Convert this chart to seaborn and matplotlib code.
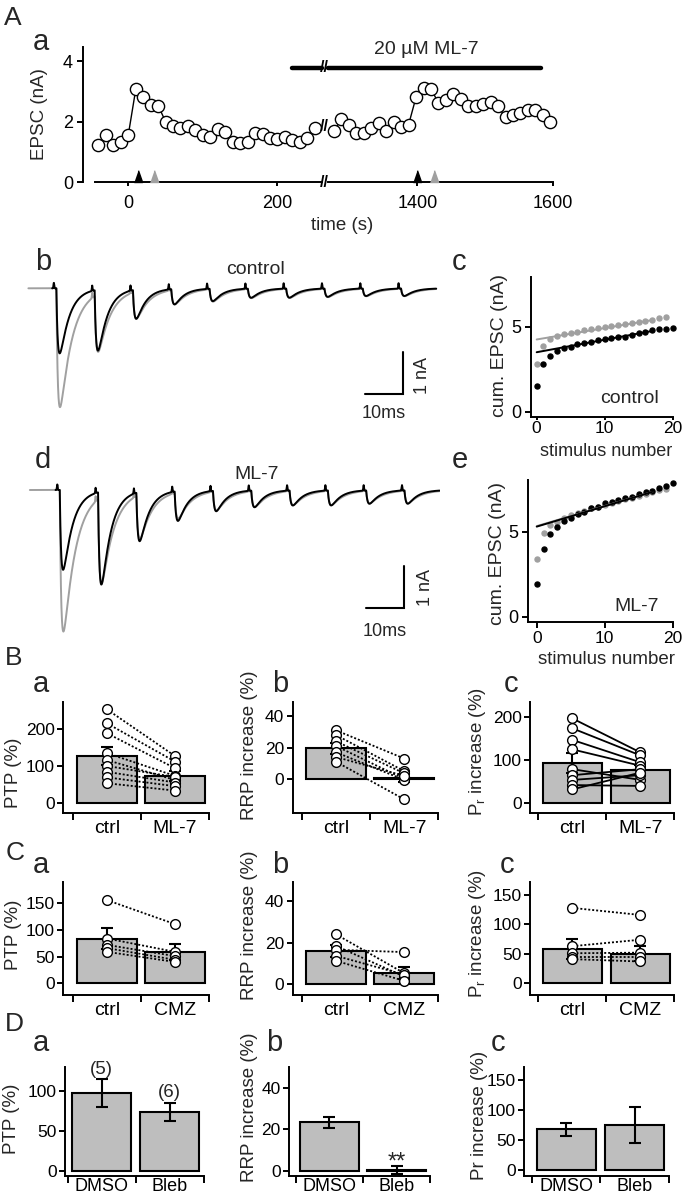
import numpy as np
import matplotlib
matplotlib.use("Agg")
import matplotlib.pyplot as plt
import matplotlib.transforms as mtrans
import seaborn as sns

# ---------------- data ----------------
# Panel A: EPSC time course
time_pre = [-40, -30, -20, -10, 0, 10, 20, 30, 40, 50, 60, 70, 80, 90, 100,
            110, 120, 130, 140, 150, 160, 170, 180, 190, 200, 210, 220, 230, 240, 250]
epsc_pre = [1.22, 1.57, 1.22, 1.35, 1.57, 3.08, 2.82, 2.56, 2.54, 2.01, 1.85, 1.79, 1.87, 1.73, 1.57,
            1.51, 1.76, 1.65, 1.35, 1.29, 1.35, 1.62, 1.59, 1.46, 1.43, 1.51, 1.40, 1.35, 1.46, 1.79]
time_post = [1277, 1288, 1299, 1310, 1321, 1332, 1343, 1354, 1365, 1376, 1387, 1398, 1409, 1420, 1431,
             1442, 1453, 1464, 1475, 1486, 1497, 1508, 1519, 1530, 1541, 1552, 1563, 1574, 1585, 1596]
epsc_post = [1.71, 2.09, 1.90, 1.62, 1.62, 1.79, 1.98, 1.70, 1.99, 1.82, 1.91, 2.82, 3.12, 3.08, 2.64,
             2.73, 2.93, 2.75, 2.53, 2.51, 2.60, 2.67, 2.51, 2.15, 2.23, 2.29, 2.40, 2.40, 2.23, 1.99]
tetanus_black = [13, 1400]
tetanus_gray = [34, 1424]
ml7_start, ml7_end, ml7_level = 219, 1582, 3.8

# Panels b, d: EPSC trains (10 stimuli, amplitudes in nA)
stim_times = [0, 10, 20, 30, 40, 50, 60, 70, 80, 90]
b_black_amp = [1.56, 1.46, 0.70, 0.37, 0.30, 0.22, 0.22, 0.20, 0.18, 0.18]
b_gray_amp = [2.85, 1.38, 0.65, 0.35, 0.30, 0.22, 0.22, 0.20, 0.18, 0.18]
d_black_amp = [1.90, 2.21, 1.17, 0.71, 0.49, 0.40, 0.36, 0.36, 0.32, 0.32]
d_gray_amp = [3.37, 2.05, 1.05, 0.62, 0.45, 0.38, 0.34, 0.34, 0.30, 0.30]

# Panels c, e: cumulative EPSC
stim_num_black = list(range(21))
stim_num_gray = list(range(20))
c_black = [1.53, 2.80, 3.29, 3.57, 3.73, 3.82, 3.96, 4.06, 4.12, 4.22, 4.27, 4.31, 4.37, 4.41, 4.51,
           4.61, 4.71, 4.80, 4.84, 4.86, 4.90]
c_gray = [2.80, 3.86, 4.25, 4.45, 4.55, 4.65, 4.71, 4.78, 4.85, 4.92, 4.98, 5.04, 5.10, 5.17, 5.23,
          5.30, 5.36, 5.42, 5.53, 5.55]
e_black = [1.92, 3.96, 4.84, 5.29, 5.63, 5.78, 6.04, 6.18, 6.37, 6.47, 6.67, 6.76, 6.86, 6.96, 7.06,
           7.22, 7.31, 7.41, 7.55, 7.71, 7.88]
e_gray = [3.39, 4.90, 5.39, 5.59, 5.78, 5.98, 6.12, 6.24, 6.37, 6.47, 6.57, 6.68, 6.79, 6.90, 7.00,
          7.11, 7.22, 7.33, 7.45, 7.49]
c_fit_black = (3.50, 0.0735)   # intercept, slope
c_fit_gray = (4.25, 0.0670)
e_fit_black = (5.30, 0.120)
e_fit_gray = (5.33, 0.118)
fit_range = (0, 17)

# Row B (ML-7)
cats_B = ["ctrl", "ML-7"]
Ba_mean, Ba_sem = [127, 73], [24, 13]
Ba_ctrl = [254, 216, 189, 135, 116, 100, 84, 69, 53]
Ba_drug = [127, 112, 94, 73, 62, 70, 55, 45, 33]
Bb_mean, Bb_sem = [19.5, 0.5], [3.3, 2.7]
Bb_ctrl = [31, 28, 24, 21, 17, 14, 11]
Bb_drug = [13, 5, 3.6, 0, -0.6, 2, -13]
Bc_mean, Bc_sem = [93, 76], [23, 12]
Bc_ctrl = [196, 173, 146, 124, 78, 64, 53, 41, 31]
Bc_drug = [117, 110, 94, 86, 53, 78, 64, 39, 70]
# Row C (CMZ)
cats_C = ["ctrl", "CMZ"]
Ca_mean, Ca_sem = [84, 58], [20, 15]
Ca_ctrl = [156, 84, 72, 66, 59]
Ca_drug = [111, 59, 51, 44, 40]
Cb_mean, Cb_sem = [16, 5.2], [3, 3]
Cb_ctrl = [24, 18.4, 16.5, 13.6, 11.2]
Cb_drug = [5.2, 3.6, 15.4, 4.5, 1.5]
Cc_mean, Cc_sem = [58, 50], [17, 13]
Cc_ctrl = [128, 63, 51, 44, 41]
Cc_drug = [116, 74, 52, 44, 37]
# Row D (blebbistatin)
cats_D = ["DMSO", "Bleb"]
Da_mean, Da_sem = [97.5, 74], [18, 11]
Da_n = ["(5)", "(6)"]
Db_mean, Db_sem = [23.4, 0.5], [2.8, 1.9]
Dc_mean, Dc_sem = [68, 75], [11, 30]

# ---------------- style ----------------
sns.set_style("ticks")
plt.rcParams["font.family"] = ["Liberation Sans", "DejaVu Sans"]
plt.rcParams["mathtext.default"] = "regular"
plt.rcParams["axes.linewidth"] = 1.4
plt.rcParams["xtick.major.width"] = 1.4
plt.rcParams["ytick.major.width"] = 1.4
plt.rcParams["xtick.color"] = "k"
plt.rcParams["ytick.color"] = "k"
plt.rcParams["axes.edgecolor"] = "k"

W, H = 683, 1199
fig = plt.figure(figsize=(W / 100, H / 100), dpi=100)
GRAY = "#a0a0a0"
BARC = "#bebebe"


def axpx(x0, y0, x1, y1):
    ax = fig.add_axes([x0 / W, 1 - y1 / H, (x1 - x0) / W, (y1 - y0) / H])
    ax.patch.set_alpha(0)
    return ax


def ftext(x, y, s, **kw):
    return fig.text(x / W, 1 - y / H, s, **kw)


# ---------------- Panel A ----------------
axL = axpx(82.6, 47, 321.7, 182.3)
axR = axpx(328, 47, 553, 182.3)
for ax in (axL, axR):
    ax.set_ylim(0, 4.48)
    ax.spines["top"].set_visible(False)
    ax.spines["right"].set_visible(False)
    ax.tick_params(axis="x", length=3, pad=6.5, labelsize=13)
axL.set_xlim(-61.3, 259.4)
axR.set_xlim(1268.1, 1600)
axR.spines["left"].set_visible(False)
axR.set_yticks([])
axL.spines["bottom"].set_bounds(-45, 259.4)
axL.set_yticks([0, 2, 4])
axL.tick_params(axis="y", length=4, pad=3, labelsize=13)
axL.set_xticks([0, 200])
axR.set_xticks([1400, 1600])

for ax, tt, yy in ((axL, time_pre, epsc_pre), (axR, time_post, epsc_post)):
    sns.lineplot(x=tt, y=yy, ax=ax, color="k", lw=1.0, marker="o", markersize=8.8,
                 markerfacecolor="white", markeredgecolor="k", markeredgewidth=1.0,
                 clip_on=False, zorder=3)
tri = [(-0.35, 0), (0.35, 0), (0, 1)]
for tb, tg in zip(tetanus_black, tetanus_gray):
    ax = axL if tb < 1000 else axR
    ax.plot([tb], [0], marker=tri, ms=17, color="k", ls="none", clip_on=False, zorder=4)
    ax.plot([tg], [0], marker=tri, ms=17, color=GRAY, ls="none", clip_on=False, zorder=4)
axL.plot([ml7_start, axL.get_xlim()[1]], [ml7_level, ml7_level], color="k", lw=3.2,
         solid_capstyle="round", clip_on=False)
axR.plot([axR.get_xlim()[0], ml7_end], [ml7_level, ml7_level], color="k", lw=3.2,
         solid_capstyle="round", clip_on=False)
bt = mtrans.blended_transform_factory(fig.transFigure, axL.transData)
for yv in (0, ml7_level, 1.85):
    fig.text(324.8 / W, yv, "//", transform=bt, ha="center", va="center", fontsize=11.5,
             fontweight="bold", color="k")
ftext(426, 49, "20 µM ML-7", ha="center", va="center", fontsize=14)
ftext(342, 226, "time (s)", ha="center", va="center", fontsize=13.5)
ftext(40, 114, "EPSC (nA)", ha="center", va="center", rotation=90, fontsize=13.5)


# ---------------- Panels b, d (traces) ----------------
def epsc_trace(t, stims, amps, tau_r, tau_d, delay=0.8):
    y = np.zeros_like(t)
    tp = tau_d * tau_r / (tau_d - tau_r) * np.log(tau_d / tau_r)
    norm = np.exp(-tp / tau_d) - np.exp(-tp / tau_r)
    for s, a in zip(stims, amps):
        dt = np.clip(t - s - delay, 0, None)
        k = np.where(t - s - delay > 0, (np.exp(-dt / tau_d) - np.exp(-dt / tau_r)) / norm, 0.0)
        y = y - a * k + 0.13 * np.exp(-((t - s - 0.15) / 0.12) ** 2)
    return y


def trace_panel(box, xlim, ylim, black_amp, gray_amp, gray_start, title, title_xy,
                bar_corner, lbl10, lbl1):
    ax = axpx(*box)
    ax.set_xlim(*xlim)
    ax.set_ylim(*ylim)
    ax.axis("off")
    tg = np.arange(gray_start, 100.0, 0.02)
    tb = np.arange(-0.3, 100.0, 0.02)
    ax.plot(tg, epsc_trace(tg, stim_times, gray_amp, 0.4, 3.2), color=GRAY, lw=1.4)
    ax.plot(tb, epsc_trace(tb, stim_times, black_amp, 0.4, 2.5), color="k", lw=1.4)
    cx, cy = bar_corner
    ax.plot([cx - 10, cx, cx], [cy, cy, cy + 1], color="k", lw=1.5, solid_joinstyle="miter")
    ax.text(lbl10[0], lbl10[1], "10ms", ha="center", va="center", fontsize=13)
    ax.text(lbl1[0], lbl1[1], "1 nA", ha="center", va="center", rotation=90, fontsize=13)
    ax.text(title_xy[0], title_xy[1], title, ha="center", va="center", fontsize=14)
    return ax


trace_panel((20, 270, 440, 420), (-8.69, 100.97), (-3.158, 0.439), b_black_amp, b_gray_amp,
            -6.5, "control", (52.7, 0.44), (91.3, -2.53), (86.3, -3.0), (96.3, -2.1))
trace_panel((20, 470, 440, 640), (-9.58, 100.08), (-3.571, 0.476), d_black_amp, d_gray_amp,
            -7.0, "ML-7", (52.2, 0.36), (90.7, -2.81), (85.7, -3.38), (96.2, -2.31))


# ---------------- Panels c, e ----------------
def cum_panel(box, xlim, ylim, blk, gry, fb, fg, label, label_xy, xpad, xlen):
    ax = axpx(*box)
    ax.set_xlim(*xlim)
    ax.set_ylim(*ylim)
    sns.despine(ax=ax)
    ax.set_xticks([0, 10, 20])
    ax.set_yticks([0, 5])
    ax.tick_params(axis="y", length=4, pad=3, labelsize=13)
    ax.tick_params(axis="x", length=xlen, pad=xpad, labelsize=12.5)
    ax.plot(stim_num_gray, gry, "o", color=GRAY, ms=3.6, clip_on=False)
    ax.plot(stim_num_black, blk, "o", color="k", ms=3.6, clip_on=False)
    xr = np.array(fit_range)
    ax.plot(xr, fg[0] + fg[1] * xr, color=GRAY, lw=1.4)
    ax.plot(xr, fb[0] + fb[1] * xr, color="k", lw=1.4)
    ax.text(label_xy[0], label_xy[1], label, ha="center", va="center", fontsize=14)
    return ax


cum_panel((530.7, 276.7, 672.7, 416.7), (-0.88, 20), (-0.29, 7.94), c_black, c_gray,
          c_fit_black, c_fit_gray, "control", (13.6, 0.8), 0.3, 2.5)
cum_panel((528.3, 480, 672.7, 621.7), (-1.24, 20), (-0.29, 8.04), e_black, e_gray,
          e_fit_black, e_fit_gray, "ML-7", (14.7, 0.6), 3, 4)
ftext(499, 346, "cum. EPSC (nA)", ha="center", va="center", rotation=90, fontsize=14)
ftext(497, 553, "cum. EPSC (nA)", ha="center", va="center", rotation=90, fontsize=14)
ftext(606, 451, "stimulus number", ha="center", va="center", fontsize=13)
ftext(606, 660, "stimulus number", ha="center", va="center", fontsize=13.5)


# ---------------- Bar panels ----------------
def bar_panel(box, xlim, ylim, yticks, cats, mean, sem, ctrl=None, drug=None,
              ls=(0, (1.1, 1.1)), xpad=5, xsize=14):
    ax = axpx(*box)
    sns.barplot(x=cats, y=mean, ax=ax, color=BARC, saturation=1, edgecolor="k",
                linewidth=1.5, width=0.87, errorbar=None, zorder=1)
    ax.errorbar([0, 1], mean, yerr=sem, fmt="none", ecolor="k", elinewidth=1.5,
                capsize=4.5, capthick=1.5, zorder=3)
    if ctrl is not None:
        for a, b in zip(ctrl, drug):
            ax.plot([0, 1], [a, b], color="k", lw=1.3, ls=ls, zorder=4)
        ax.plot([0] * len(ctrl), ctrl, "o", ms=7, mfc="white", mec="k", mew=1.0,
                zorder=5, clip_on=False)
        ax.plot([1] * len(drug), drug, "o", ms=7, mfc="white", mec="k", mew=1.0,
                zorder=5, clip_on=False)
    ax.set_xlim(*xlim)
    ax.set_ylim(*ylim)
    sns.despine(ax=ax)
    ax.set_yticks(yticks)
    ax.set_xticks([-0.5, 0.5, 1.5])
    ax.set_xticklabels([])
    ax.set_xticks([0, 1], minor=True)
    ax.set_xticklabels(cats, minor=True)
    ax.tick_params(axis="x", which="major", length=5, direction="out")
    ax.tick_params(axis="x", which="minor", length=0, pad=xpad, labelsize=xsize)
    ax.tick_params(axis="y", length=4, pad=2, labelsize=12.5)
    ax.set_xlabel("")
    ax.set_ylabel("")
    return ax


xB = [(63.3, 209, (-0.643, 1.5)), (292.7, 438.3, (-0.632, 1.5)), (530, 674.3, (-0.625, 1.5))]
xD = [(65, 203.5, (-0.537, 1.5)), (289, 430.4, (-0.60, 1.5)), (524, 668.7, (-0.62, 1.5))]

# Row B
bar_panel((xB[0][0], 701.7, xB[0][1], 813), xB[0][2], (-28, 275), [0, 100, 200], cats_B,
          Ba_mean, Ba_sem, Ba_ctrl, Ba_drug)
bar_panel((xB[1][0], 701.7, xB[1][1], 813), xB[1][2], (-21.7, 49.2), [0, 20, 40], cats_B,
          Bb_mean, Bb_sem, Bb_ctrl, Bb_drug)
bar_panel((xB[2][0], 701.7, xB[2][1], 813), xB[2][2], (-24, 235), [0, 100, 200], cats_B,
          Bc_mean, Bc_sem, Bc_ctrl, Bc_drug, ls="-")
# Row C
bar_panel((xB[0][0], 881.7, xB[0][1], 995), xB[0][2], (-22, 190.6), [0, 50, 100, 150], cats_C,
          Ca_mean, Ca_sem, Ca_ctrl, Ca_drug)
bar_panel((xB[1][0], 881.7, xB[1][1], 995), xB[1][2], (-5.34, 49.4), [0, 20, 40], cats_C,
          Cb_mean, Cb_sem, Cb_ctrl, Cb_drug)
bar_panel((xB[2][0], 881.7, xB[2][1], 995), xB[2][2], (-19.9, 172.5), [0, 50, 100, 150], cats_C,
          Cc_mean, Cc_sem, Cc_ctrl, Cc_drug)
# Row D
yD0, yD1 = 1067, 1176.3
axDa = bar_panel((xD[0][0], yD0, xD[0][1], yD1), xD[0][2], (-6.6, 130), [0, 50, 100], cats_D,
                 Da_mean, Da_sem, xpad=1.5, xsize=13)
axDb = bar_panel((xD[1][0], yD0, xD[1][1], yD1), xD[1][2], (-2.55, 50), [0, 20, 40], cats_D,
                 Db_mean, Db_sem, xpad=1.5, xsize=13)
axDc = bar_panel((xD[2][0], yD0, xD[2][1], yD1), xD[2][2], (-10, 172), [0, 50, 100, 150], cats_D,
                 Dc_mean, Dc_sem, xpad=1.5, xsize=13)
for i, lab in enumerate(Da_n):
    axDa.annotate(lab, (i, Da_mean[i] + Da_sem[i]), xytext=(0, 3.6 + 0.6 * i),
                  textcoords="offset points", ha="center", va="baseline", fontsize=13.5)
axDb.annotate("**", (1, Db_mean[1] + Db_sem[1]), xytext=(0, -1.5), textcoords="offset points",
              ha="center", va="baseline", fontsize=17)

# y labels of bar panels
ylabs = [
    (13, 773, "PTP (%)"), (249, 745, "RRP increase (%)"), (477, 752, "P$_r$ increase (%)"),
    (13, 935, "PTP (%)"), (249, 925, "RRP increase (%)"), (477, 934, "P$_r$ increase (%)"),
    (12, 1119, "PTP (%)"), (249, 1107, "RRP increase (%)"), (480, 1115, "Pr increase (%)"),
]
for x, y, s in ylabs:
    ftext(x, y, s, ha="center", va="center", rotation=90, fontsize=13.5)

# panel letters (x left, baseline y)
big = [(4, 25, "A"), (5, 665, "B"), (6, 860, "C"), (5, 1031, "D")]
small = [(33, 50, "a"), (35, 270, "b"), (452, 270, "c"), (35, 468, "d"), (452, 468, "e"),
         (33, 692, "a"), (272, 692, "b"), (504, 692, "c"),
         (33, 873, "a"), (272, 873, "b"), (500, 873, "c"),
         (33, 1051, "a"), (266, 1051, "b"), (491, 1051, "c")]
for x, y, s in big:
    ftext(x, y, s, ha="left", va="baseline", fontsize=19)
for x, y, s in small:
    ftext(x, y, s, ha="left", va="baseline", fontsize=21)

fig.savefig("out.png", dpi=100)
